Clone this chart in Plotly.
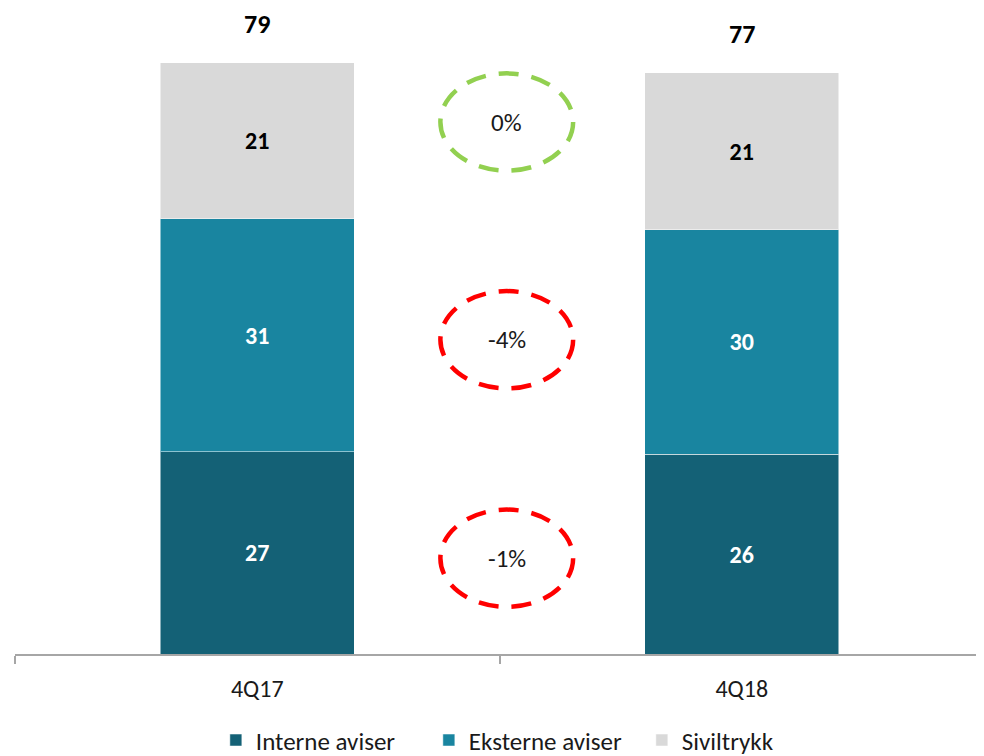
import plotly.graph_objects as go

# data
quarters = ["4Q17", "4Q18"]
interne = [27.0, 26.7]
eksterne = [31.2, 30.0]
siviltrykk = [20.8, 21.0]

interne_labels = ["27", "26"]
eksterne_labels = ["31", "30"]
siviltrykk_labels = ["21", "21"]
total_labels = ["79", "77"]

change_labels = ["-1%", "-4%", "0%"]
change_colors = ["#FF0000", "#FF0000", "#92D050"]
change_y = [12.8, 42.0, 71.1]   # centre of each ellipse, in y units

FONT = "Calibri, Carlito, Lato, sans-serif"
DARK = "#146176"
TEAL = "#1985A0"
GREY = "#D9D9D9"

totals = [a + b + c for a, b, c in zip(interne, eksterne, siviltrykk)]

fig = go.Figure()
series = [
    ("Interne aviser", interne, interne_labels, DARK, "white"),
    ("Eksterne aviser", eksterne, eksterne_labels, TEAL, "white"),
    ("Siviltrykk", siviltrykk, siviltrykk_labels, GREY, "black"),
]
for name, vals, labels, color, txtcolor in series:
    fig.add_trace(
        go.Bar(
            name=name,
            x=quarters,
            y=vals,
            text=labels,
            textposition="inside",
            insidetextanchor="middle",
            textangle=0,
            textfont=dict(family=FONT, size=24, color=txtcolor, weight="bold"),
            marker=dict(color=color, line=dict(color="rgba(255,255,255,0.5)", width=1)),
            width=0.4,
            hoverinfo="skip",
        )
    )

# totals above each bar
for q, t, lab in zip(quarters, totals, total_labels):
    fig.add_annotation(
        x=q, y=t, text=lab, showarrow=False,
        yanchor="bottom", yshift=21,
        font=dict(family=FONT, size=26, color="black", weight="bold"),
    )

# dashed ellipses with change labels between the bars
cx, half_w, half_h = 0.515, 0.137, 6.5
for lab, col, yc in zip(change_labels, change_colors, change_y):
    fig.add_shape(
        type="circle", xref="x", yref="y",
        x0=cx - half_w, x1=cx + half_w, y0=yc - half_h, y1=yc + half_h,
        line=dict(color=col, width=4.5, dash="20px,13px"),
        layer="above",
    )
    fig.add_annotation(
        x=cx, y=yc, text=lab, showarrow=False,
        font=dict(family=FONT, size=25, color="#1a1a1a"),
    )

# the page adds an 8px body margin, so the figure is 8px smaller than the window
fig.update_layout(
    width=976,
    height=748,
    barmode="stack",
    paper_bgcolor="white",
    plot_bgcolor="white",
    margin=dict(l=7, r=0, t=10, b=102),
    font=dict(family=FONT, size=22, color="#1a1a1a"),
    showlegend=True,
    legend=dict(
        orientation="h",
        x=0.537, xanchor="center",
        yref="container", y=0.021, yanchor="middle",
        font=dict(family=FONT, size=25, color="#1a1a1a"),
        entrywidth=168,
        itemclick=False,
        traceorder="normal",
    ),
    xaxis=dict(
        type="category",
        showline=True,
        linecolor="#A6A6A6",
        linewidth=1.5,
        ticks="outside",
        tickson="boundaries",
        ticklen=8,
        tickcolor="#A6A6A6",
        tickwidth=1.5,
        showgrid=False,
        zeroline=False,
        ticklabelstandoff=12,
        tickfont=dict(family=FONT, size=24, color="#1a1a1a"),
        range=[-0.5, 1.5],
    ),
    yaxis=dict(
        range=[0, 85.0],
        visible=False,
        showgrid=False,
        zeroline=False,
    ),
)

fig.write_html("out.html")
